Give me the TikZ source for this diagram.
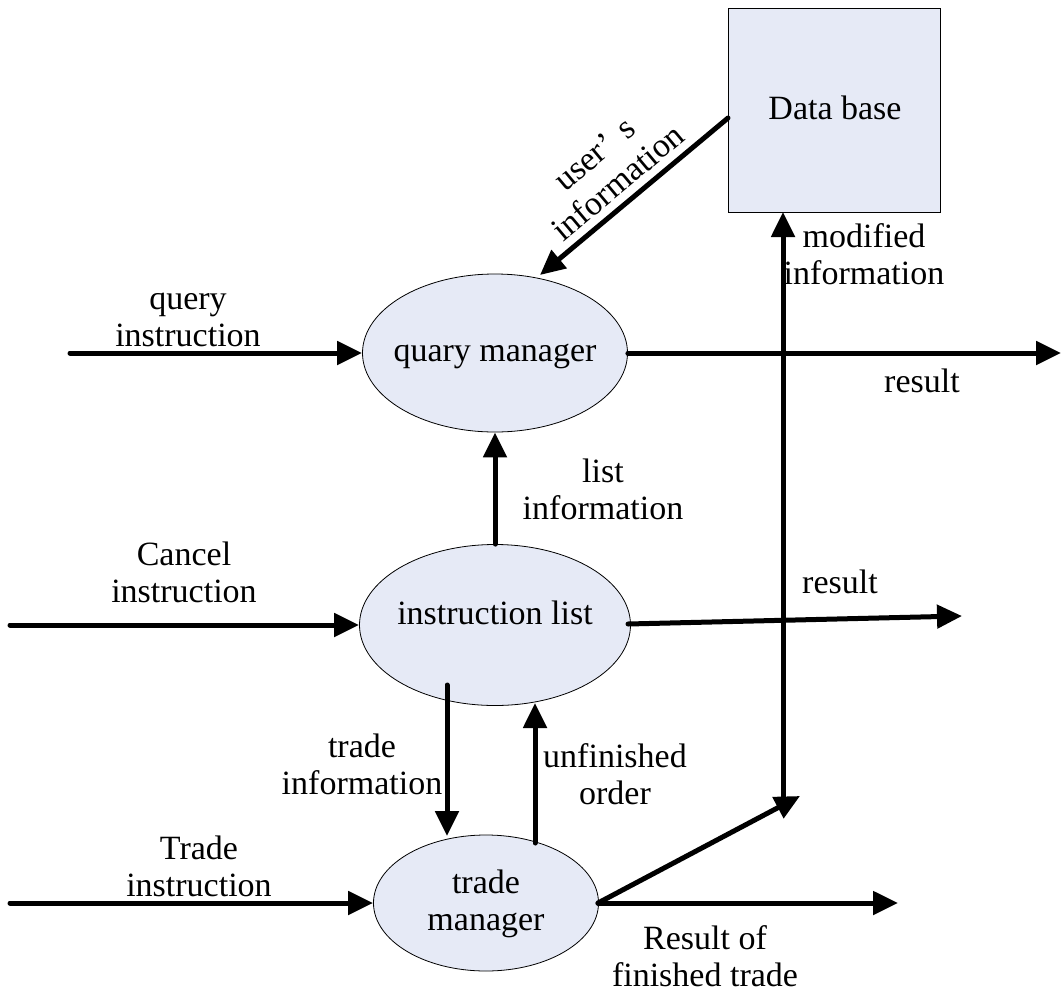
\documentclass[tikz,border=0pt]{standalone}
\usepackage{fontspec}
\setmainfont{Liberation Serif}
\usetikzlibrary{arrows.meta,shapes.geometric}

\definecolor{procfill}{HTML}{E6EAF6}

\tikzset{
  flow/.style={line width=5pt, line cap=round,
    -{Triangle[length=25pt,width=23pt]}},
  process/.style={ellipse, draw=black, line width=0.8pt, fill=procfill,
    inner sep=0pt, align=center},
  store/.style={rectangle, draw=black, line width=0.8pt, fill=procfill,
    inner sep=0pt},
  lbl/.style={align=center, inner sep=0pt},
}

\begin{document}
\begin{tikzpicture}[x=1pt, y=-1pt, font=\fontsize{34}{37}\selectfont]
  \useasboundingbox (0,0) rectangle (1061,991);

  % data store and processes
  \node[store, minimum width=212pt, minimum height=204pt] (db) at (834,110) {};
  \node (dbtext) at (835,108) {Data base};
  \node[process, minimum width=265pt, minimum height=158pt] (qm) at (495,353) {};
  \node (qmtext) at (495,356) {quary manager};
  \node[process, minimum width=271pt, minimum height=161pt] (il) at (495,625) {};
  \node (iltext) at (495,613) {instruction list};
  \node[process, minimum width=225pt, minimum height=136pt] (tm) at (486,903) {};
  \node[lbl] (tmtext) at (486,904) {trade\\manager};

  % free ends of the connectors
  \coordinate (qin)  at (70,353);
  \coordinate (qout) at (1061,353);
  \coordinate (cin)  at (10,625);
  \coordinate (cout) at (962,616);
  \coordinate (tin)  at (10,903);
  \coordinate (tout) at (898,903);
  \coordinate (tsrc) at (598,903);
  \coordinate (join) at (800,796);
  \coordinate (vbot) at (783,797);
  \coordinate (dbin) at (783,212);
  \coordinate (dbout) at (728,118);
  \coordinate (qmin) at (540,275);
  \coordinate (tiA) at (447,685);
  \coordinate (tiB) at (447,836);
  \coordinate (uoA) at (535,843);
  \coordinate (uoB) at (535,703);
  \coordinate (ilout) at (628,624);

  % connectors
  \draw[flow] (qin) -- (qm.west);
  \draw[flow] (qm.east) -- (qout);
  \draw[flow] (cin) -- (il.west);
  \draw[flow] (ilout) -- (cout);
  \draw[flow] (tin) -- (tm.west);
  \draw[flow] (tsrc) -- (tout);
  \draw[flow] (tsrc) -- (join);
  \draw[flow] (vbot) -- (dbin);
  \draw[flow] (dbout) -- (qmin);
  \draw[flow] (il.north) -- (qm.south);
  \draw[flow] (tiA) -- (tiB);
  \draw[flow] (uoA) -- (uoB);

  % labels
  \node[lbl] (l1) at (188,320) {query\\instruction};
  \node[lbl] (l2) at (922,381) {result};
  \node[lbl] (l3) at (603,489) {list\\information};
  \node[lbl] (l4) at (184,572) {Cancel\\instruction};
  \node[lbl] (l5) at (840,582) {result};
  \node[lbl] (l6) at (362,764) {trade\\information};
  \node[lbl] (l7) at (615,774) {unfinished\\order};
  \node[lbl] (l8) at (199,866) {Trade\\instruction};
  \node[lbl] (l9) at (705,956) {Result of\\finished trade};
  \node[lbl] (l10) at (864,254) {modified\\information};
  \node[lbl, rotate=40] (l11) at (606,168) {user’\hspace{12pt}s\\information};
\end{tikzpicture}
\end{document}
